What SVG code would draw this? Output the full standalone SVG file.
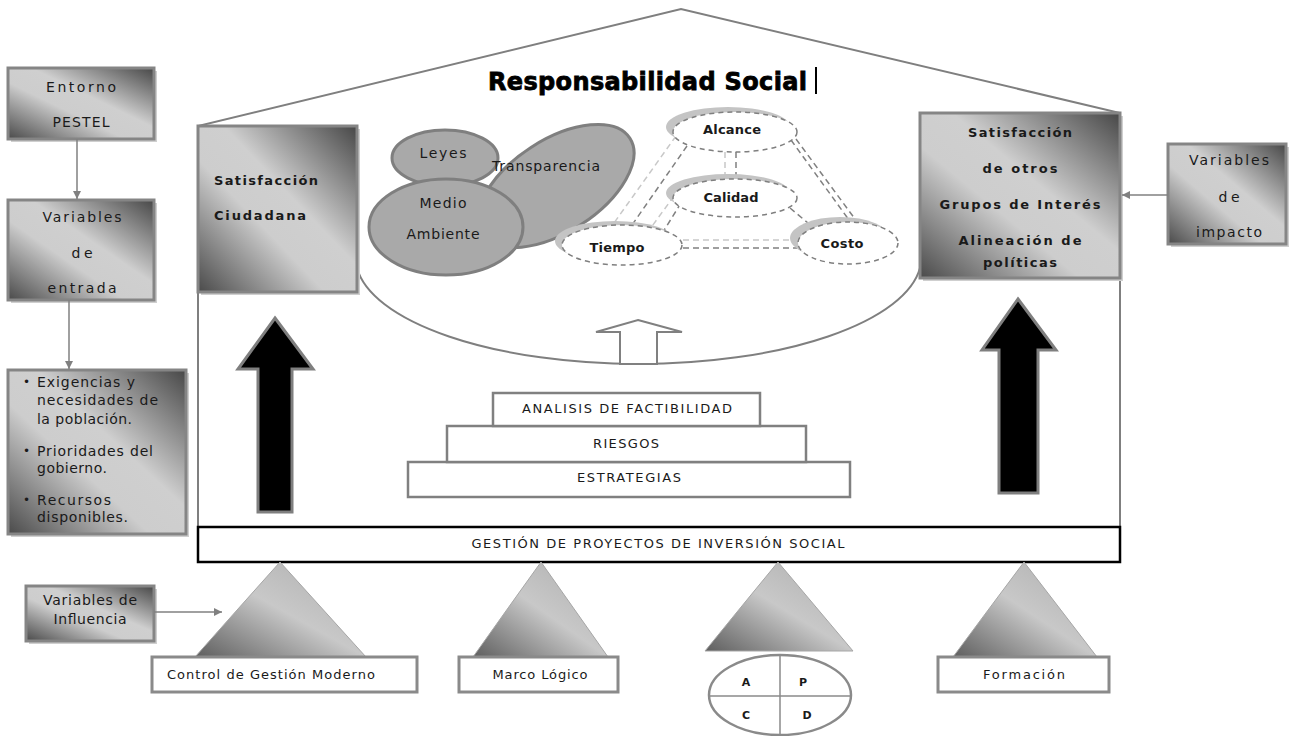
<svg xmlns="http://www.w3.org/2000/svg" width="1291" height="736" viewBox="0 0 1291 736">
<style>
text{font-family:"DejaVu Sans","Liberation Sans",sans-serif;fill:#1a1a1a;dominant-baseline:central}
.m{text-anchor:middle}
.b{font-weight:bold}
.gbox{fill:url(#boxGrad);stroke:#858585;stroke-width:3}
.shadow{fill:#cfcfcf}
.lbl{fill:#fff;stroke:#8a8a8a;stroke-width:3}
.tri{fill:url(#triGrad);stroke:#a6a6a6;stroke-width:1}
.gell{fill:#a9a9a9;stroke:#7f7f7f;stroke-width:3}
.dell{fill:#fff;stroke:#7f7f7f;stroke-width:1.5;stroke-dasharray:5 4}
.cres{fill:#c4c4c4}
.dk{stroke:#808080;stroke-width:1.5;stroke-dasharray:6 4;fill:none}
.lt{stroke:#c8c8c8;stroke-width:1.5;stroke-dasharray:6 4;fill:none}
.con{stroke:#808080;stroke-width:1.5;fill:none}
.stair{fill:#fff;stroke:#808080;stroke-width:2.5}
.house{fill:none;stroke:#7f7f7f;stroke-width:2}
</style>
<defs>
<linearGradient id="boxGrad" x1="1" y1="0" x2="0" y2="1">
<stop offset="0" stop-color="#474747"/>
<stop offset="0.42" stop-color="#cfcfcf"/>
<stop offset="0.6" stop-color="#cdcdcd"/>
<stop offset="1" stop-color="#4a4a4a"/>
</linearGradient>
<linearGradient id="triGrad" x1="0" y1="1" x2="1" y2="0">
<stop offset="0" stop-color="#5e5e5e"/>
<stop offset="0.5" stop-color="#c8c8c8"/>
<stop offset="1" stop-color="#acacac"/>
</linearGradient>
<marker id="ah" viewBox="0 0 8 8" refX="8" refY="4" markerWidth="8" markerHeight="8" markerUnits="userSpaceOnUse" orient="auto">
<path d="M0,0 L8,4 L0,8 z" fill="#808080"/>
</marker>
</defs>
<rect width="1291" height="736" fill="#fff"/>

<g id="house">
<polyline class="house" points="198,527 198,126 681,9 1120,113 1120,527"/>
<path class="house" d="M357,268 A283,107 0 0 0 920,268" stroke-width="1.5"/>
</g>

<g id="title">
<text x="488" y="82" class="b" font-size="24" textLength="319" style="fill:#000;stroke:#000;stroke-width:0.8">Responsabilidad Social</text>
<line x1="816" y1="67" x2="816" y2="94" stroke="#000" stroke-width="2"/>
</g>

<g id="satisfaccion-ciudadana">
<rect class="shadow" x="201" y="129" width="159" height="166"/>
<rect class="gbox" x="198" y="126" width="159" height="166"/>
<text x="214" y="180" class="b" font-size="13" textLength="104">Satisfacción</text>
<text x="214" y="215" class="b" font-size="13" textLength="92">Ciudadana</text>
</g>

<g id="satisfaccion-otros">
<rect class="shadow" x="923" y="116" width="200" height="165"/>
<rect class="gbox" x="920" y="113" width="200" height="165"/>
<text x="1020" y="132" class="b m" font-size="13" textLength="104">Satisfacción</text>
<text x="1020" y="168" class="b m" font-size="13" textLength="75">de otros</text>
<text x="1020" y="204" class="b m" font-size="13" textLength="161">Grupos de Interés</text>
<text x="1020" y="240" class="b m" font-size="13" textLength="123">Alineación de</text>
<text x="1020" y="262" class="b m" font-size="13" textLength="74">políticas</text>
</g>

<g id="entorno-pestel">
<rect class="shadow" x="11" y="71" width="146" height="71"/>
<rect class="gbox" x="8" y="68" width="146" height="71"/>
<text x="81" y="87" class="m" font-size="14" textLength="70">Entorno</text>
<text x="81" y="122" class="m" font-size="14" textLength="57">PESTEL</text>
</g>

<g id="variables-entrada">
<rect class="shadow" x="11" y="203" width="146" height="100"/>
<rect class="gbox" x="8" y="200" width="146" height="100"/>
<text x="82" y="217" class="m" font-size="14" textLength="79">Variables</text>
<text x="82" y="253" class="m" font-size="14" textLength="21">de</text>
<text x="82" y="288" class="m" font-size="14" textLength="69">entrada</text>
</g>

<g id="necesidades">
<rect class="shadow" x="11" y="373" width="178" height="164"/>
<rect class="gbox" x="8" y="370" width="178" height="164"/>
<text x="23" y="382" font-size="12">•</text>
<text x="37" y="382" font-size="14" textLength="98">Exigencias y</text>
<text x="37" y="400" font-size="14" textLength="121">necesidades de</text>
<text x="37" y="419" font-size="14" textLength="95">la población.</text>
<text x="23" y="451" font-size="12">•</text>
<text x="37" y="451" font-size="14" textLength="116">Prioridades del</text>
<text x="37" y="468" font-size="14" textLength="70">gobierno.</text>
<text x="23" y="500" font-size="12">•</text>
<text x="37" y="500" font-size="14" textLength="74">Recursos</text>
<text x="37" y="517" font-size="14" textLength="91">disponibles.</text>
</g>

<g id="variables-influencia">
<rect class="shadow" x="29" y="589" width="128" height="55"/>
<rect class="gbox" x="26" y="586" width="128" height="55"/>
<text x="90" y="600" class="m" font-size="14" textLength="94">Variables de</text>
<text x="90" y="619" class="m" font-size="14" textLength="73">Influencia</text>
</g>

<g id="variables-impacto">
<rect class="shadow" x="1171" y="147" width="118" height="100"/>
<rect class="gbox" x="1168" y="144" width="118" height="100"/>
<text x="1229" y="160" class="m" font-size="14" textLength="80">Variables</text>
<text x="1229" y="197" class="m" font-size="14" textLength="21">de</text>
<text x="1229" y="232" class="m" font-size="14" textLength="66">impacto</text>
</g>

<g id="leyes">
<ellipse class="gell" cx="445" cy="158" rx="53" ry="28"/>
</g>
<g id="transparencia">
<ellipse class="gell" cx="556" cy="186" rx="88" ry="46" transform="rotate(-33 556 186)"/>
<text x="546" y="166" class="m" font-size="14" textLength="108">Transparencia</text>
</g>
<g id="leyes-label">
<text x="443" y="153" class="m" font-size="14" textLength="47">Leyes</text>
</g>
<g id="medio-ambiente">
<ellipse class="gell" cx="446" cy="227" rx="77" ry="48"/>
<text x="443" y="203" class="m" font-size="14" textLength="47">Medio</text>
<text x="443" y="234" class="m" font-size="14" textLength="73">Ambiente</text>
</g>

<g id="connectors">
<line class="con" x1="77" y1="139" x2="77" y2="199" marker-end="url(#ah)"/>
<line class="con" x1="69" y1="300" x2="69" y2="369" marker-end="url(#ah)"/>
<line class="con" x1="154" y1="612" x2="222" y2="612" marker-end="url(#ah)"/>
<line class="con" x1="1168" y1="195" x2="1122" y2="195" marker-end="url(#ah)"/>
<line class="lt" x1="725" y1="152" x2="725" y2="180"/>
<line class="dk" x1="736" y1="152" x2="736" y2="180"/>
<line class="lt" x1="676" y1="136" x2="614" y2="223"/>
<line class="dk" x1="687" y1="146" x2="632" y2="225"/>
<line class="lt" x1="674" y1="196" x2="650" y2="229"/>
<line class="dk" x1="681" y1="203" x2="663" y2="232"/>
<line class="dk" x1="791" y1="140" x2="849" y2="220" stroke-dasharray="3 3"/>
<line class="dk" x1="796" y1="139" x2="855" y2="219" stroke-dasharray="3 3"/>
<line class="dk" x1="790" y1="208" x2="808" y2="223"/>
<line class="lt" x1="683" y1="240" x2="797" y2="240"/>
<line class="dk" x1="683" y1="248" x2="797" y2="248"/>
</g>

<g id="alcance">
<ellipse class="cres" cx="728" cy="127" rx="62" ry="20"/>
<ellipse class="dell" cx="735" cy="132" rx="62" ry="20"/>
<text x="732" y="129" class="m b" font-size="13" textLength="58">Alcance</text>
</g>
<g id="calidad">
<ellipse class="cres" cx="728" cy="193" rx="62" ry="19"/>
<ellipse class="dell" cx="735" cy="198" rx="62" ry="19"/>
<text x="731" y="197" class="m b" font-size="13" textLength="55">Calidad</text>
</g>
<g id="tiempo">
<ellipse class="cres" cx="615" cy="241" rx="60" ry="20"/>
<ellipse class="dell" cx="622" cy="245" rx="60" ry="20"/>
<text x="617" y="247" class="m b" font-size="13" textLength="55">Tiempo</text>
</g>
<g id="costo">
<ellipse class="cres" cx="840" cy="238" rx="50" ry="21"/>
<ellipse class="dell" cx="848" cy="243" rx="50" ry="21"/>
<text x="842" y="243" class="m b" font-size="13" textLength="43">Costo</text>
</g>

<g id="flecha-hueca">
<polygon points="638,320 682,332 657,332 657,364 620,364 620,332 596,332" fill="#fff" stroke="#808080" stroke-width="2"/>
</g>

<g id="flecha-izquierda">
<polygon points="275,318 313,369 292,369 292,512 258,512 258,369 238,369" fill="#000" stroke="#7f7f7f" stroke-width="3"/>
</g>
<g id="flecha-derecha">
<polygon points="1018,299 1056,350 1038,350 1038,493 999,493 999,350 982,350" fill="#000" stroke="#7f7f7f" stroke-width="3"/>
</g>

<g id="estrategias">
<rect class="stair" x="408" y="462" width="442" height="35"/>
<text x="629" y="477" class="m" font-size="13" textLength="104">ESTRATEGIAS</text>
</g>
<g id="riesgos">
<rect class="stair" x="447" y="426" width="359" height="36"/>
<text x="626" y="443" class="m" font-size="13" textLength="66">RIESGOS</text>
</g>
<g id="analisis">
<rect class="stair" x="493" y="393" width="267" height="33"/>
<text x="627" y="408" class="m" font-size="13" textLength="210">ANALISIS DE FACTIBILIDAD</text>
</g>

<g id="gestion">
<rect x="198" y="527" width="922" height="35" fill="#fff" stroke="#000" stroke-width="2.5"/>
<text x="658" y="543" class="m" font-size="13" textLength="373">GESTIÓN DE PROYECTOS DE INVERSIÓN SOCIAL</text>
</g>

<g id="control-gestion">
<polygon class="tri" points="280,562 366,657 195,657"/>
<rect class="lbl" x="152" y="657" width="265" height="35"/>
<text x="167" y="674" font-size="13" textLength="208">Control de Gestión  Moderno</text>
</g>
<g id="marco-logico">
<polygon class="tri" points="541,562 608,657 473,657"/>
<rect class="lbl" x="459" y="657" width="159" height="35"/>
<text x="540" y="674" class="m" font-size="13" textLength="95">Marco Lógico</text>
</g>
<g id="pdca">
<polygon class="tri" points="778,562 853,651 705,651"/>
<ellipse cx="780" cy="695" rx="71" ry="40" fill="#fff" stroke="#8a8a8a" stroke-width="2.5"/>
<line x1="780" y1="655" x2="780" y2="735" stroke="#8a8a8a" stroke-width="1.5"/>
<line x1="709" y1="696" x2="851" y2="696" stroke="#8a8a8a" stroke-width="1.5"/>
<text x="746" y="682" class="m b" font-size="11">A</text>
<text x="803" y="682" class="m b" font-size="11">P</text>
<text x="746" y="715" class="m b" font-size="11">C</text>
<text x="807" y="715" class="m b" font-size="11">D</text>
</g>
<g id="formacion">
<polygon class="tri" points="1024,562 1097,657 953,657"/>
<rect class="lbl" x="938" y="657" width="171" height="35"/>
<text x="1024" y="674" class="m" font-size="13" textLength="82">Formación</text>
</g>
</svg>
